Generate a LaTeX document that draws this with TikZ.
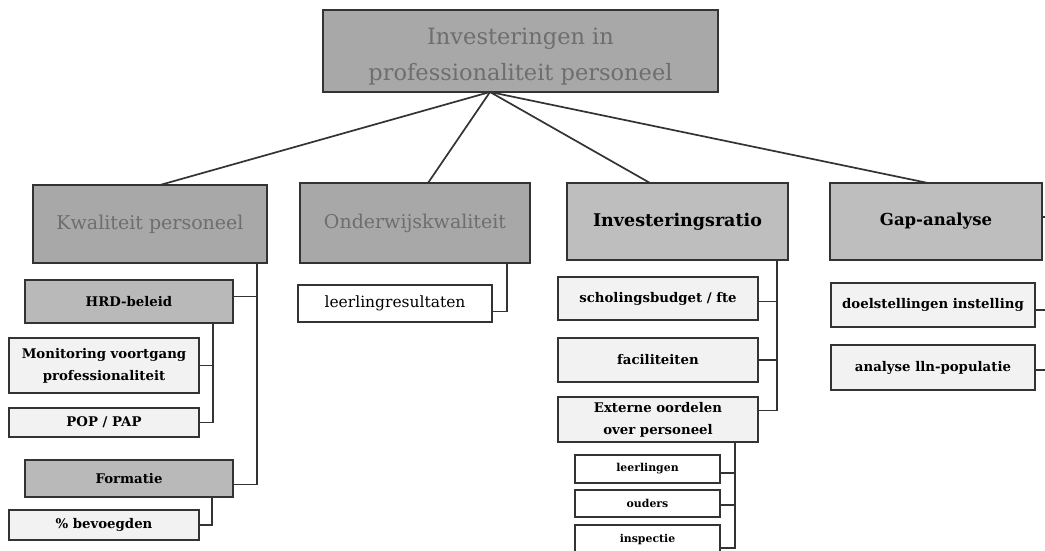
\documentclass[tikz,border=0pt]{standalone}
\usepackage{fontspec}
\setmainfont{DejaVu Serif}
\usetikzlibrary{calc}
\definecolor{edgegray}{HTML}{333333}
\definecolor{headfill}{HTML}{A8A8A8}
\definecolor{headtext}{HTML}{6E6E6E}
\definecolor{midfill}{HTML}{BEBEBE}
\definecolor{subfill}{HTML}{B9B9B9}
\definecolor{leaffill}{HTML}{F2F2F2}
\tikzset{
  box/.style={draw=edgegray, line width=1.6pt, inner sep=0pt, outer sep=0pt, align=center},
  rootbox/.style={box, fill=headfill, text=headtext, font=\fontsize{22.5}{36}\selectfont},
  greyhead/.style={box, fill=headfill, text=headtext, font=\fontsize{19}{22}\selectfont},
  darkhead/.style={box, fill=midfill, text=black, font=\bfseries\fontsize{17.5}{21}\selectfont},
  subbox/.style={box, fill=subfill, font=\bfseries\fontsize{13.3}{16}\selectfont},
  leafbox/.style={box, fill=leaffill, font=\bfseries\fontsize{13.3}{22}\selectfont},
  plainbox/.style={box, fill=white, font=\fontsize{15.5}{18}\selectfont},
  smallbox/.style={box, fill=white, font=\bfseries\fontsize{10.9}{13}\selectfont},
  link/.style={draw=edgegray, line width=1.7pt},
  bus/.style={draw=edgegray, line width=1.6pt},
}
\begin{document}
\begin{tikzpicture}[x=1pt,y=-1pt]
\useasboundingbox (0,0) rectangle (1045,551);

% root (the strut lowers the two text lines a little inside the box)
\node[rootbox, minimum width=395, minimum height=82] (root) at (520.5,51)
  {\rule{0pt}{28pt}Investeringen in\\professionaliteit personeel};
\coordinate (hub) at (490,92);

% first level
\node[greyhead, minimum width=234, minimum height=78] (kp) at (150,224) {Kwaliteit personeel};
\node[greyhead, minimum width=230, minimum height=80] (ok) at (415,223) {Onderwijskwaliteit};
\node[darkhead, minimum width=221, minimum height=77] (ir) at (677.5,221.5) {Investeringsratio};
\node[darkhead, minimum width=212, minimum height=77, font=\bfseries\fontsize{16.5}{20}\selectfont] (ga) at (936,221.5) {Gap-analyse};

\draw[link] (hub) -- ($(kp.north west)+(127,0)$);
\draw[link] (hub) -- ($(ok.north west)+(128,0)$);
\draw[link] (hub) -- ($(ir.north west)+(83,0)$);
\draw[link] (hub) -- ($(ga.north west)+(98,0)$);

% Kwaliteit personeel
\node[subbox, minimum width=208, minimum height=43] (hrd) at (129,301.5) {HRD-beleid};
\node[leafbox, minimum width=190, minimum height=55] (mon) at (104,365.5) {Monitoring voortgang\\professionaliteit};
\node[leafbox, minimum width=190, minimum height=29] (pop) at (104,422.5) {POP / PAP};
\node[subbox, minimum width=208, minimum height=37] (form) at (129,478.5) {Formatie};
\node[leafbox, minimum width=190, minimum height=30] (bev) at (104,525) {\% bevoegden};

\coordinate (kpbus) at ($(kp.south west)+(224,0)$);
\draw[bus] (kpbus) |- ($(hrd.east)+(0,-5)$);
\draw[bus] (kpbus) |- ($(form.east)+(0,6)$);
\coordinate (hrdbus) at ($(hrd.south west)+(188,0)$);
\draw[bus] (hrdbus) |- (mon.east);
\draw[bus] (hrdbus) |- (pop.east);
\coordinate (formbus) at ($(form.south west)+(187,0)$);
\draw[bus] (formbus) |- (bev.east);

% Onderwijskwaliteit
\node[plainbox, minimum width=194, minimum height=37] (lr) at (395,303.5) {leerlingresultaten};
\coordinate (okbus) at ($(ok.south west)+(207,0)$);
\draw[bus] (okbus) |- ($(lr.east)+(0,8)$);

% Investeringsratio
\node[leafbox, minimum width=200, minimum height=43] (sb) at (658,298.5) {scholingsbudget / fte};
\node[leafbox, minimum width=200, minimum height=44] (fac) at (658,360) {faciliteiten};
\node[leafbox, minimum width=200, minimum height=45] (ext) at (658,419.5) {Externe oordelen\\over personeel};
\coordinate (irbus) at ($(ir.south west)+(210,0)$);
\draw[bus] (irbus) |- ($(sb.east)+(0,3)$);
\draw[bus] (irbus) |- (fac.east);
\draw[bus] (irbus) |- ($(ext.east)+(0,-9)$);

\node[smallbox, minimum width=145, minimum height=28] (ll) at (647.5,469) {leerlingen};
\node[smallbox, minimum width=145, minimum height=27] (oud) at (647.5,503.5) {ouders};
\node[smallbox, minimum width=145, minimum height=28] (insp) at (647.5,539) {inspectie};
\coordinate (extbus) at ($(ext.south west)+(177,0)$);
\draw[bus] (extbus) |- ($(ll.east)+(0,4)$);
\draw[bus] (extbus) |- ($(oud.east)+(0,1.5)$);
\draw[bus] (extbus) |- ($(insp.east)+(0,9)$);

% Gap-analyse
\node[leafbox, minimum width=204, minimum height=44] (doel) at (933,305) {doelstellingen instelling};
\node[leafbox, minimum width=204, minimum height=45] (an) at (933,367.5) {analyse lln-populatie};
\coordinate (gaout) at (1045,217);
\coordinate (doelout) at (1045,310);
\coordinate (anout) at (1045,370);
\draw[bus] (ga.east |- gaout) -- (gaout);
\draw[bus] (doel.east |- doelout) -- (doelout);
\draw[bus] (an.east |- anout) -- (anout);
\end{tikzpicture}
\end{document}
